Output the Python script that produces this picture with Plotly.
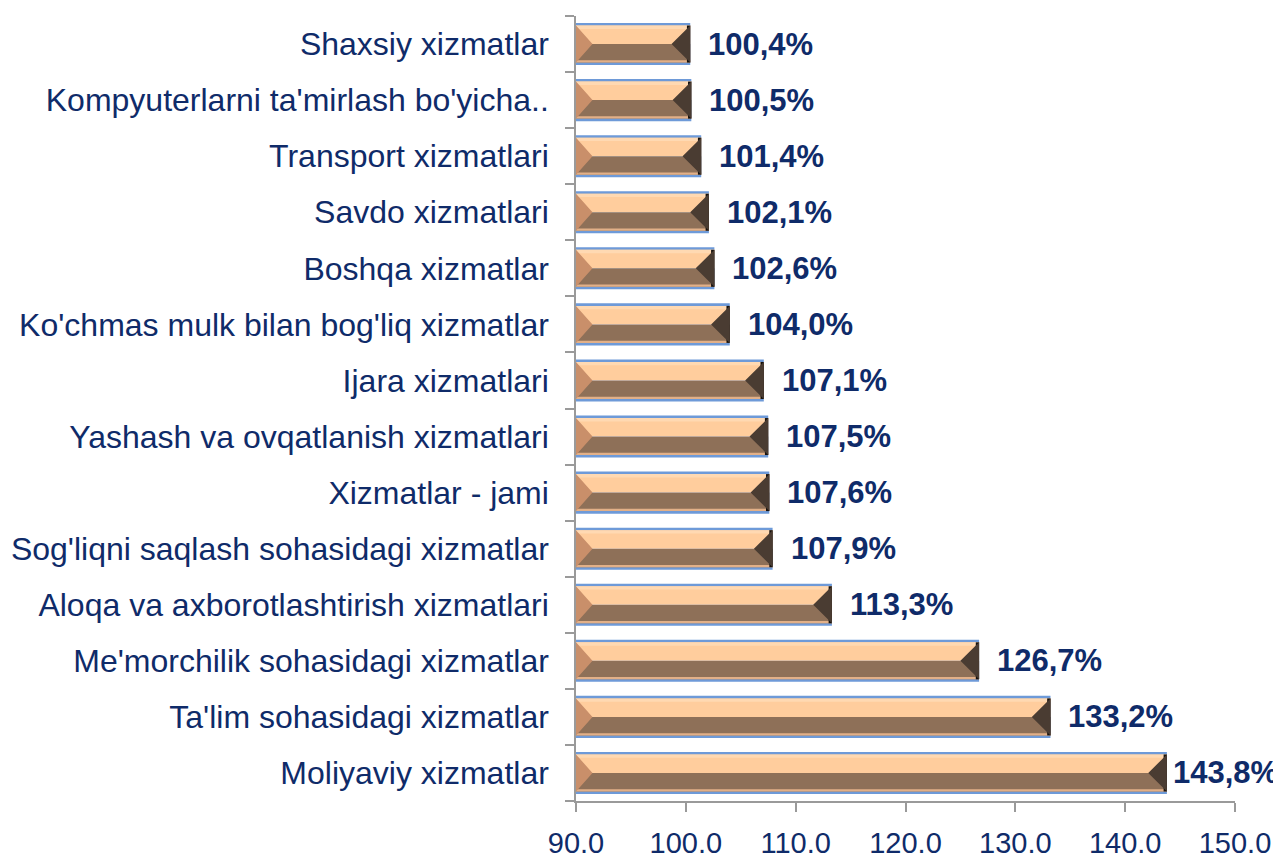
import plotly.graph_objects as go

# ---- data (top to bottom as shown) ----
categories = [
    "Shaxsiy xizmatlar",
    "Kompyuterlarni ta'mirlash bo'yicha..",
    "Transport xizmatlari",
    "Savdo xizmatlari",
    "Boshqa xizmatlar",
    "Ko'chmas mulk bilan bog'liq xizmatlar",
    "Ijara xizmatlari",
    "Yashash va ovqatlanish xizmatlari",
    "Xizmatlar - jami",
    "Sog'liqni saqlash sohasidagi xizmatlar",
    "Aloqa va axborotlashtirish xizmatlari",
    "Me'morchilik sohasidagi xizmatlar",
    "Ta'lim sohasidagi xizmatlar",
    "Moliyaviy xizmatlar",
]
values = [100.4, 100.5, 101.4, 102.1, 102.6, 104.0, 107.1, 107.5, 107.6, 107.9, 113.3, 126.7, 133.2, 143.8]
x_ticks = [90, 100, 110, 120, 130, 140, 150]

# ---- style ----
FONT = "Liberation Sans, Arial, sans-serif"
NAVY = "#0F2B69"
AXIS = "#9A9A9A"
X0, X1 = 90, 150
HALF = 0.33      # half of inner bar thickness (y units)
BEVEL_L = 1.5    # bevel depth at left end (x units)
BEVEL_R = 1.7    # bevel depth at right end (x units)

n = len(categories)
ypos = [n - 1 - i for i in range(n)]
labels = [f"{v:.1f}%".replace(".", ",") for v in values]

fig = go.Figure()

# blue outer edge
fig.add_bar(x=values, y=ypos, orientation="h", width=0.75,
            marker=dict(color="#6E9AD8", line_width=0), hoverinfo="skip")
# bottom (dark) bevel half
fig.add_bar(x=values, y=ypos, orientation="h", width=HALF, offset=-HALF,
            marker=dict(color="#8E7058", line_width=0), hoverinfo="skip")
# top (light) bevel half
fig.add_bar(x=values, y=ypos, orientation="h", width=HALF, offset=0,
            marker=dict(color="#FFCD9D", line_width=0), hoverinfo="skip")
# light streak near the bottom edge
fig.add_bar(x=values, y=ypos, orientation="h", width=0.04, offset=-HALF,
            marker=dict(color="#E2B088", line_width=0), hoverinfo="skip")
# light streak at the top edge
fig.add_bar(x=values, y=ypos, orientation="h", width=0.06, offset=HALF - 0.06,
            marker=dict(color="#FFD9B2", line_width=0), hoverinfo="skip")

# bevel triangles at both ends
lx, ly, rx, ry = [], [], [], []
for v, c in zip(values, ypos):
    lx += [X0, X0 + BEVEL_L, X0, None]
    ly += [c + HALF, c, c - HALF, None]
    rx += [v, v - BEVEL_R, v, None]
    ry += [c + HALF, c, c - HALF, None]
fig.add_scatter(x=lx, y=ly, mode="lines", fill="toself", fillcolor="#C98F6A",
                line=dict(width=0, color="#C98F6A"), hoverinfo="skip")
fig.add_scatter(x=rx, y=ry, mode="lines", fill="toself", fillcolor="#4A3C32",
                line=dict(width=0, color="#4A3C32"), hoverinfo="skip")
# dark end cap
fig.add_bar(x=[0.3] * n, base=[v - 0.3 for v in values], y=ypos, orientation="h",
            width=2 * HALF, offset=-HALF,
            marker=dict(color="#15110E", line_width=0), hoverinfo="skip")

# value labels
shifts = [16] * (n - 1) + [4]
for v, c, t, s in zip(values, ypos, labels, shifts):
    fig.add_annotation(x=v, y=c, text=t, showarrow=False, xanchor="left",
                       yanchor="middle", xshift=s,
                       font=dict(family=FONT, size=31, color=NAVY, weight="bold"))

fig.update_layout(
    width=1281, height=856,
    margin=dict(l=568, r=54, t=8, b=63, autoexpand=False),
    paper_bgcolor="white", plot_bgcolor="white",
    barmode="overlay", showlegend=False,
    xaxis=dict(range=[X0, X1], tickmode="array", tickvals=x_ticks, tickformat=".1f",
               ticks="outside", ticklen=9, tickwidth=1.5, tickcolor=AXIS,
               showline=True, linecolor=AXIS, linewidth=1.5,
               showgrid=False, zeroline=False, ticklabelstandoff=6,
               tickfont=dict(family=FONT, size=29, color=NAVY)),
    yaxis=dict(range=[-0.5, n - 0.5], tickmode="array", tickvals=ypos, ticktext=categories,
               ticks="", showline=True, linecolor=AXIS, linewidth=1.5,
               showgrid=False, zeroline=False, ticklabelstandoff=19,
               minor=dict(ticks="outside", ticklen=9, tickwidth=1.5, tickcolor=AXIS,
                          tickmode="linear", tick0=0.5, dtick=1, showgrid=False),
               tickfont=dict(family=FONT, size=32, color=NAVY)),
)

fig.write_html("out.html")
